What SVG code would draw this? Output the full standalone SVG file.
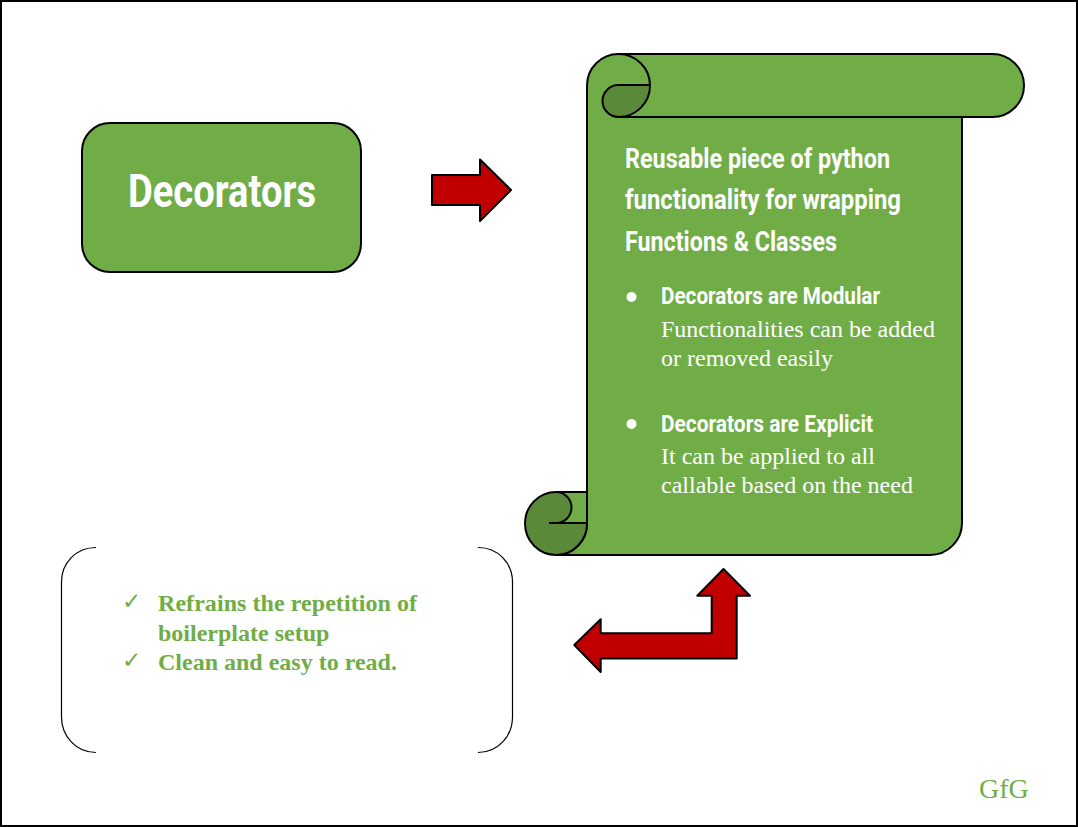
<svg xmlns="http://www.w3.org/2000/svg" width="1078" height="827" viewBox="0 0 1078 827">
<style>
.s{stroke:#000;stroke-width:2;stroke-linejoin:round}
.g{fill:#70ad47}
.d{fill:#5a8a39}
.r{fill:#c00000}
.h{font-family:"Roboto","Liberation Sans",sans-serif;font-weight:700;fill:#fff}
.b{font-family:"Liberation Serif",serif;fill:#fff;font-size:24px}
.c{font-family:"Liberation Serif",serif;font-weight:700;fill:#70ad47;font-size:24px}
.k{font-family:"DejaVu Sans",sans-serif;fill:#70ad47;font-size:23px}
</style>
<rect x="1" y="1" width="1076" height="825" fill="#fff" stroke="#000" stroke-width="2"/>
<g id="decorators">
<rect class="s g" x="82" y="123" width="279" height="149" rx="28"/>
<text class="h" x="128" y="207" font-size="46" textLength="188" lengthAdjust="spacingAndGlyphs">Decorators</text>
</g>
<g id="scroll">
<path class="s g" d="M587 85.500A31.500 31.500 0 0 1 618.500 54H992.500A31.500 31.500 0 0 1 992.500 117H962V523A32 32 0 0 1 930 555H556A31 31 0 0 0 587 523Z"/>
<path class="s g" d="M556 492H587V523H556Z"/>
<path class="s d" d="M556 492A31 31.500 0 1 0 587 523.500V523H556A15.500 15.500 0 0 0 556 492Z"/>
<path class="s" fill="none" d="M549 523H587"/>
<path class="s d" d="M650 85H618.500A16 16 0 0 0 618.500 117A31.500 31.500 0 0 0 650 85Z"/>
<path class="s" fill="none" d="M618.500 54A31.500 31.500 0 0 1 650 85.500M618.500 117H962"/>
<text class="h" x="625" y="168" font-size="28" textLength="265" lengthAdjust="spacingAndGlyphs">Reusable piece of python</text>
<text class="h" x="625" y="209" font-size="28" textLength="276" lengthAdjust="spacingAndGlyphs">functionality for wrapping</text>
<text class="h" x="625" y="251" font-size="28" textLength="212" lengthAdjust="spacingAndGlyphs">Functions &amp; Classes</text>
<circle cx="631.500" cy="297" r="5" fill="#fff"/>
<text class="h" x="661" y="304" font-size="24" textLength="219" lengthAdjust="spacingAndGlyphs">Decorators are Modular</text>
<text class="b" x="661" y="337">Functionalities can be added</text>
<text class="b" x="661" y="366">or removed easily</text>
<circle cx="631.500" cy="424" r="5" fill="#fff"/>
<text class="h" x="661" y="432" font-size="24" textLength="212" lengthAdjust="spacingAndGlyphs">Decorators are Explicit</text>
<text class="b" x="661" y="464">It can be applied to all</text>
<text class="b" x="661" y="493">callable based on the need</text>
</g>
<g id="benefits">
<path fill="none" stroke="#000" stroke-width="1.200" d="M96 547.500C76 547.500 61.500 563 61.500 582V717C61.500 736 76 752.500 96 752.500M478 547.500C498 547.500 512.500 563 512.500 582V717C512.500 736 498 752.500 478 752.500"/>
<text class="k" x="122" y="609">✓</text>
<text class="c" x="158" y="611" textLength="259" lengthAdjust="spacing">Refrains the repetition of</text>
<text class="c" x="158" y="641">boilerplate setup</text>
<text class="k" x="122" y="668">✓</text>
<text class="c" x="158" y="670">Clean and easy to read.</text>
</g>
<g id="connectors">
<path class="s r" d="M432 175H480V159.500L511 190L480 221V205H432Z"/>
<path class="s r" d="M723.500 569L750 595.700H736.700V658.500H600.700V672L574.300 645L600.700 619.300V633.300H711.700V595.700H697.300Z"/>
</g>
<text id="gfg" x="979" y="798" font-family="Liberation Serif,serif" font-size="28" fill="#70ad47">GfG</text>
</svg>
